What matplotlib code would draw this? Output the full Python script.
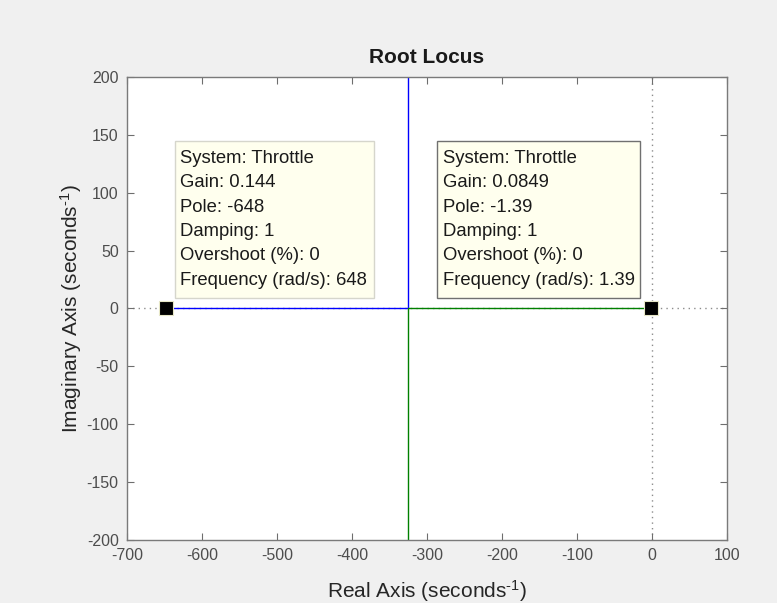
import matplotlib.pyplot as plt
from matplotlib.patches import Rectangle

plt.rcParams['font.family'] = ['Liberation Sans', 'DejaVu Sans']
plt.rcParams['mathtext.fontset'] = 'custom'
plt.rcParams['mathtext.rm'] = 'Liberation Sans'
plt.rcParams['mathtext.it'] = 'Liberation Sans'
plt.rcParams['axes.unicode_minus'] = False

# root locus branches of the "Throttle" system
poles = [-648.0, -1.39]
breakaway = -324.7
blue_re = [poles[0], breakaway, breakaway]
blue_im = [0.0, 0.0, 250.0]
green_re = [poles[1], breakaway, breakaway]
green_im = [0.0, 0.0, -250.0]

# data tips
tip_gain = ['0.144', '0.0849']
tip_pole = ['-648', '-1.39']
tip_freq = ['648', '1.39']

xticks = list(range(-700, 101, 100))
yticks = list(range(-200, 201, 50))

fig = plt.figure(figsize=(7.77, 6.03), dpi=100, facecolor='#f0f0f0')
ax = fig.add_axes([0.1634, 0.1045, 0.7722, 0.7678])
ax.set_facecolor('white')

# dotted real / imaginary axes
ax.axhline(0, color='#8c8c8c', lw=1.0, ls=(0, (1, 3)), zorder=1)
ax.axvline(0, color='#8c8c8c', lw=1.0, ls=(0, (1, 3)), zorder=1)

ax.plot(blue_re, blue_im, color='#0000ff', lw=1.0, zorder=2)
ax.plot(green_re, green_im, color='#008000', lw=1.0, zorder=2)

ax.plot(poles, [0, 0], ls='none', marker='s', ms=9.5, mfc='black',
        mec='#e8e8c8', mew=0.8, zorder=4)

# data tip boxes (layout in data units)
box_left = [-636, -287]
box_width = [265, 271]
box_bottom = 9
box_height = 136
text_left = [-629, -279]
text_top = 144          # first baseline sits ~21 px below this
line_step = 24.4        # px between lines

for i in range(2):
    edge = '#d6d6cc' if i == 0 else '#707070'
    ax.add_patch(Rectangle((box_left[i], box_bottom), box_width[i], box_height,
                           fc='#ffffee', ec=edge, lw=1.0, zorder=5))
    lines = ['System: Throttle', 'Gain: ' + tip_gain[i], 'Pole: ' + tip_pole[i],
             'Damping: 1', 'Overshoot (%): 0', 'Frequency (rad/s): ' + tip_freq[i]]
    for k, line in enumerate(lines):
        off_px = 21 + k * line_step
        ax.annotate(line, xy=(text_left[i], text_top), xytext=(0, -off_px * 0.72),
                    textcoords='offset points', va='baseline', ha='left',
                    fontsize=13.3, color='#1a1a1a', zorder=6)

ax.set_xlim(-700, 100)
ax.set_ylim(-200, 200)
ax.set_xticks(xticks)
ax.set_yticks(yticks)
ax.tick_params(direction='in', length=5, width=0.8, colors='#6e6e6e',
               labelcolor='#4d4d4d', labelsize=11.5, top=True, right=True, pad=6)
for s in ax.spines.values():
    s.set_color('#7a7a7a')
    s.set_linewidth(1.0)

sup = '$^{\\mathregular{\u2010}\\mathregular{1}}$'
ax.set_xlabel('Real Axis (seconds' + sup + ')', fontsize=15, color='#262626', labelpad=11)
ax.set_ylabel('Imaginary Axis (seconds' + sup + ')', fontsize=15, color='#262626', labelpad=2)
ax.set_title('Root Locus', fontsize=15, fontweight='bold', color='#1a1a1a', pad=10)

fig.savefig('out.png', dpi=100, facecolor=fig.get_facecolor())
